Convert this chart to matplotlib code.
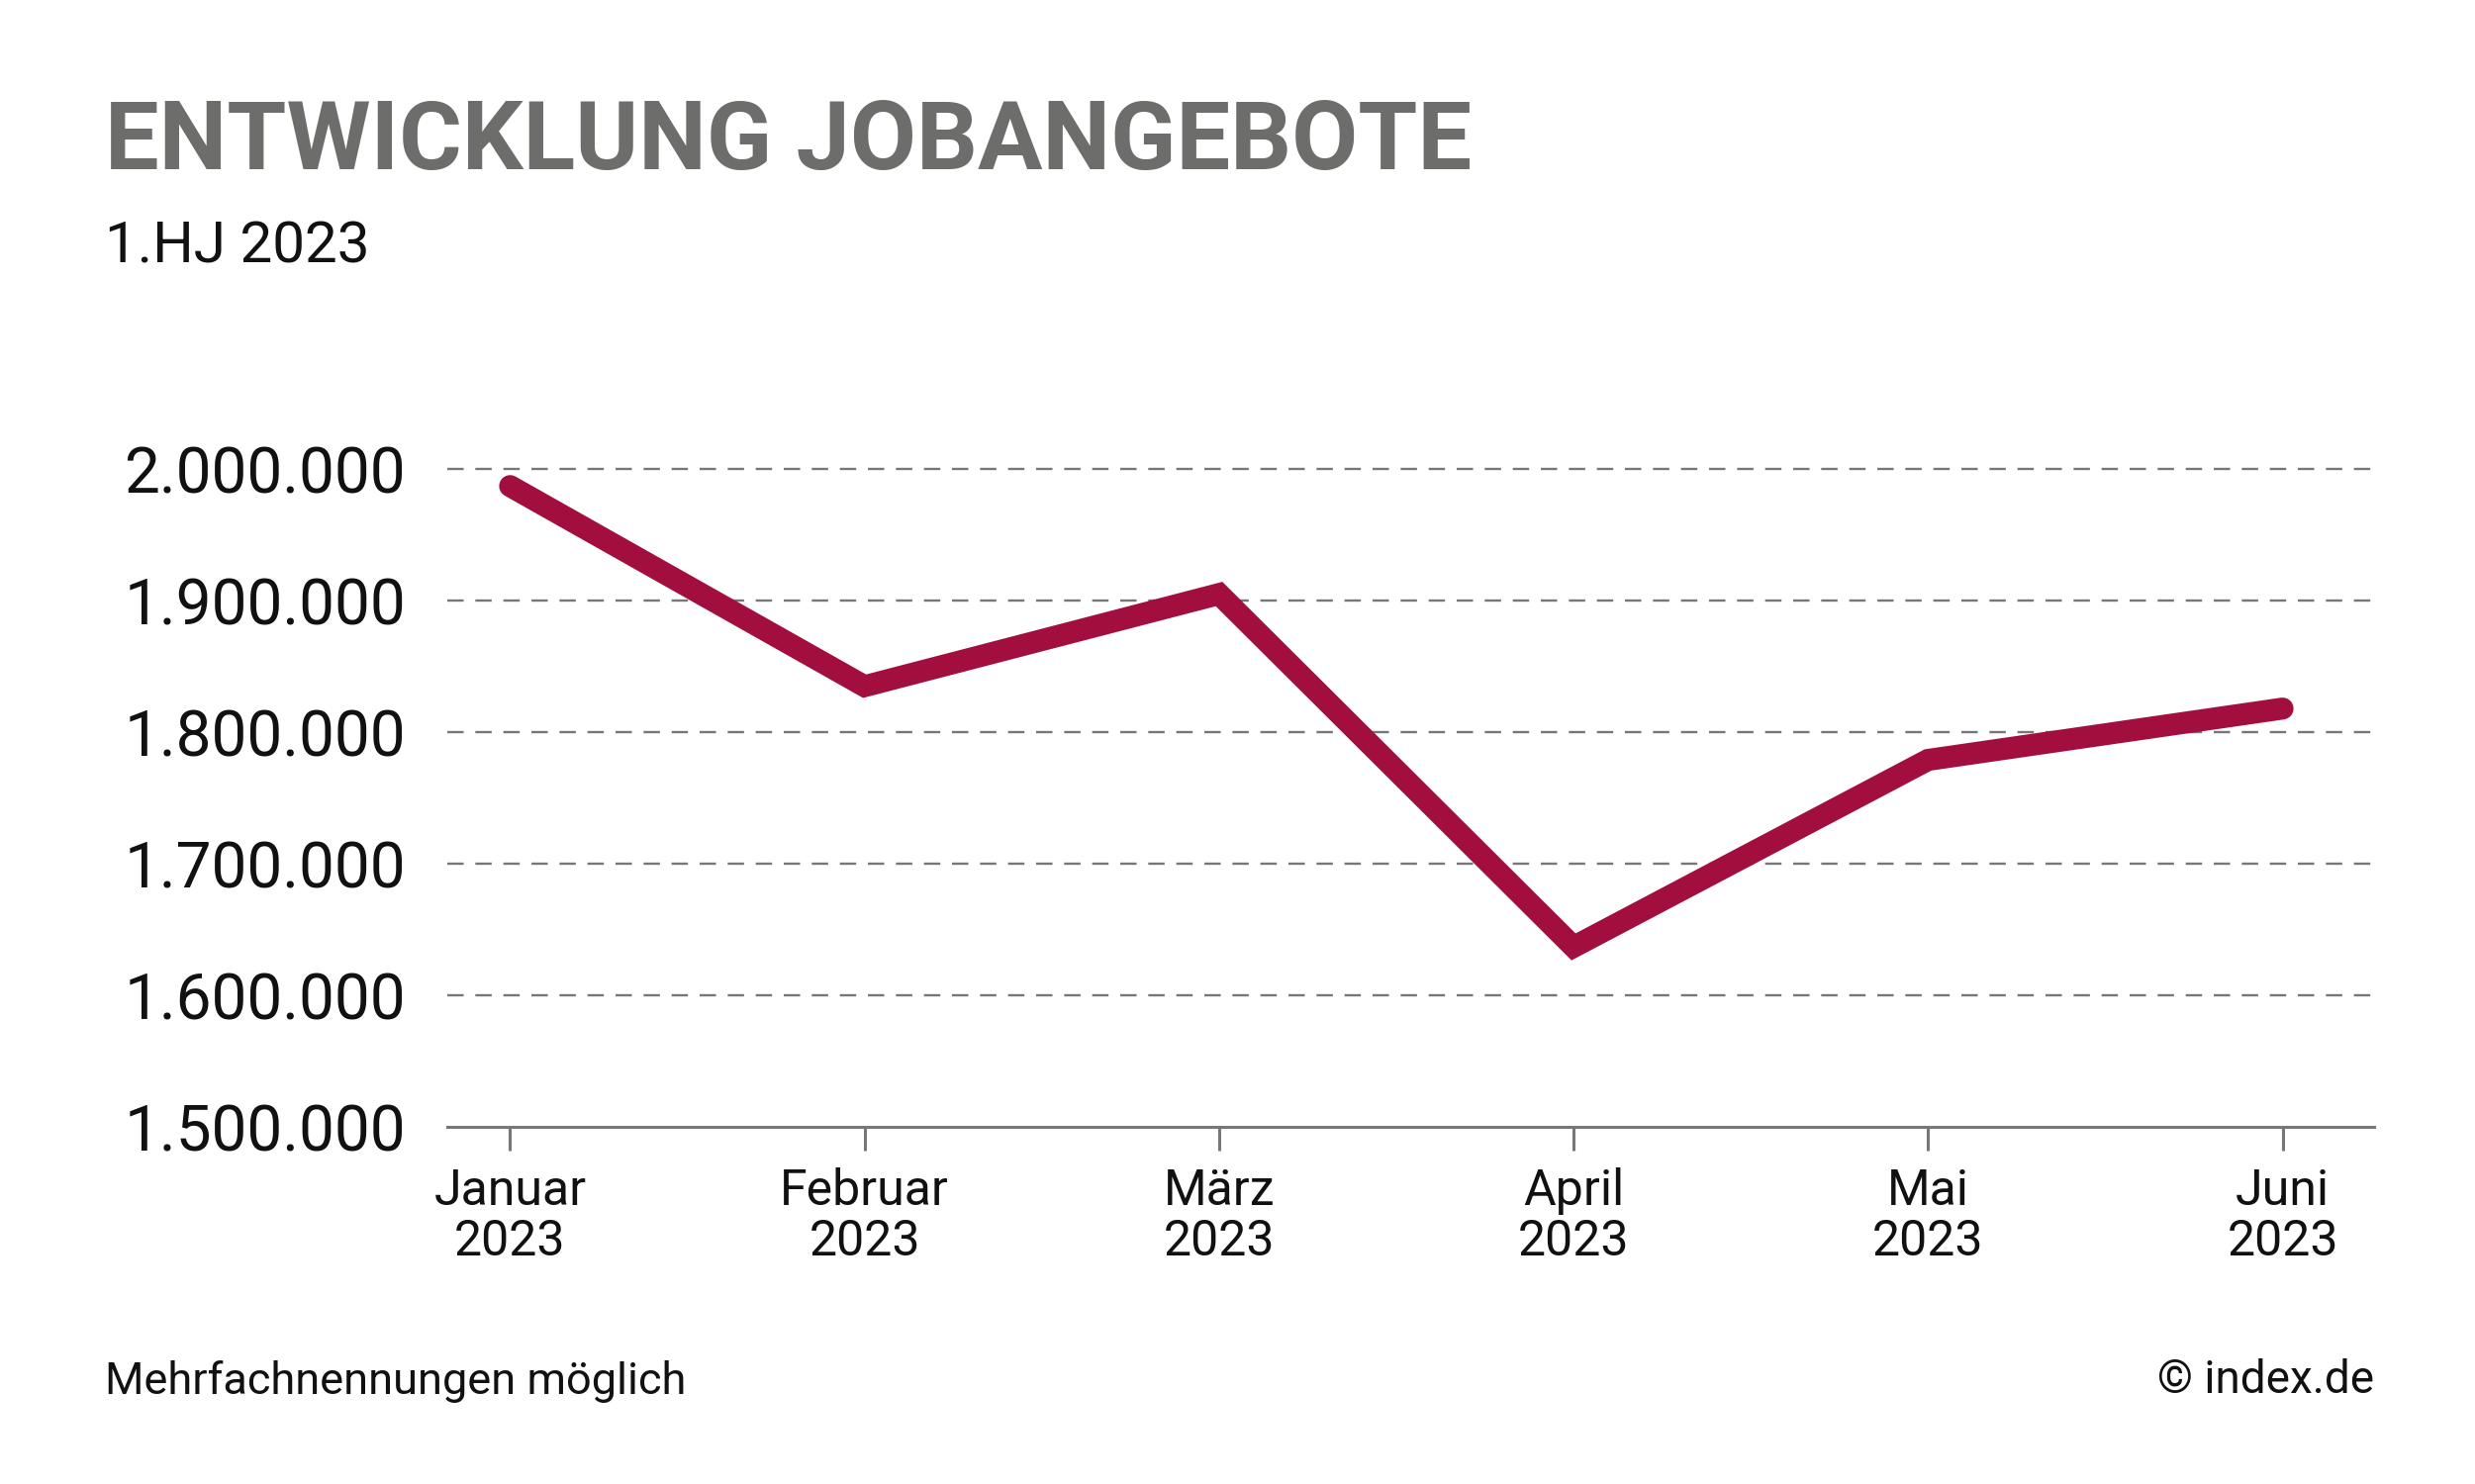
import matplotlib

matplotlib.use("Agg")
import matplotlib.pyplot as plt
from matplotlib.ticker import FuncFormatter

months = ["Januar", "Februar", "März", "April", "Mai", "Juni"]
year = "2023"
job_offers = [1987000, 1835000, 1905000, 1637000, 1779000, 1818000]
y_ticks = [1500000, 1600000, 1700000, 1800000, 1900000, 2000000]

title = "ENTWICKLUNG JOBANGEBOTE"
subtitle = "1.HJ 2023"
note_left = "Mehrfachnennungen möglich"
note_right = "© index.de"

LINE_COLOR = "#a20f3f"
GRID_COLOR = "#777777"
TITLE_COLOR = "#6d6d6b"
TEXT_COLOR = "#111111"

plt.rcParams["font.family"] = ["Roboto", "DejaVu Sans"]

figure = plt.figure(figsize=(25.01, 15), dpi=100)
axis = figure.add_axes([0.1806, 0.2404, 0.7786, 0.4436])

x = list(range(len(months)))
axis.plot(
    x, job_offers, color=LINE_COLOR, linewidth=16,
    solid_capstyle="round", solid_joinstyle="miter", clip_on=False, zorder=3,
)

axis.set_xlim(-0.178, len(months) - 1 + 0.258)
axis.set_ylim(y_ticks[0], y_ticks[-1])
axis.set_yticks(y_ticks)
axis.yaxis.set_major_formatter(FuncFormatter(lambda v, _: f"{v:,.0f}".replace(",", ".")))
axis.set_xticks(x)
axis.set_xticklabels([f"{m}\n{year}" for m in months], linespacing=1.1)

for value in y_ticks[1:]:
    axis.axhline(value, color=GRID_COLOR, linewidth=1.7, dashes=(7, 5), zorder=1, clip_on=False)

for side in ["top", "right", "left"]:
    axis.spines[side].set_visible(False)
axis.spines["bottom"].set_color(GRID_COLOR)
axis.spines["bottom"].set_linewidth(2.2)

axis.tick_params(axis="y", length=0, pad=30, labelsize=46, labelcolor=TEXT_COLOR)
axis.tick_params(axis="x", length=17, width=2.2, color=GRID_COLOR, pad=12,
                 labelsize=36, labelcolor=TEXT_COLOR)

figure.text(0.0423, 0.886, title, fontsize=70, fontweight="bold",
            color=TITLE_COLOR, va="baseline", ha="left")
figure.text(0.0423, 0.823, subtitle, fontsize=42,
            color=TEXT_COLOR, va="baseline", ha="left")
figure.text(0.0423, 0.061, note_left, fontsize=32.5,
            color=TEXT_COLOR, va="baseline", ha="left")
figure.text(0.9592, 0.061, note_right, fontsize=33,
            color=TEXT_COLOR, va="baseline", ha="right")

figure.savefig("out.png", dpi=100, facecolor="white")
plt.close(figure)
